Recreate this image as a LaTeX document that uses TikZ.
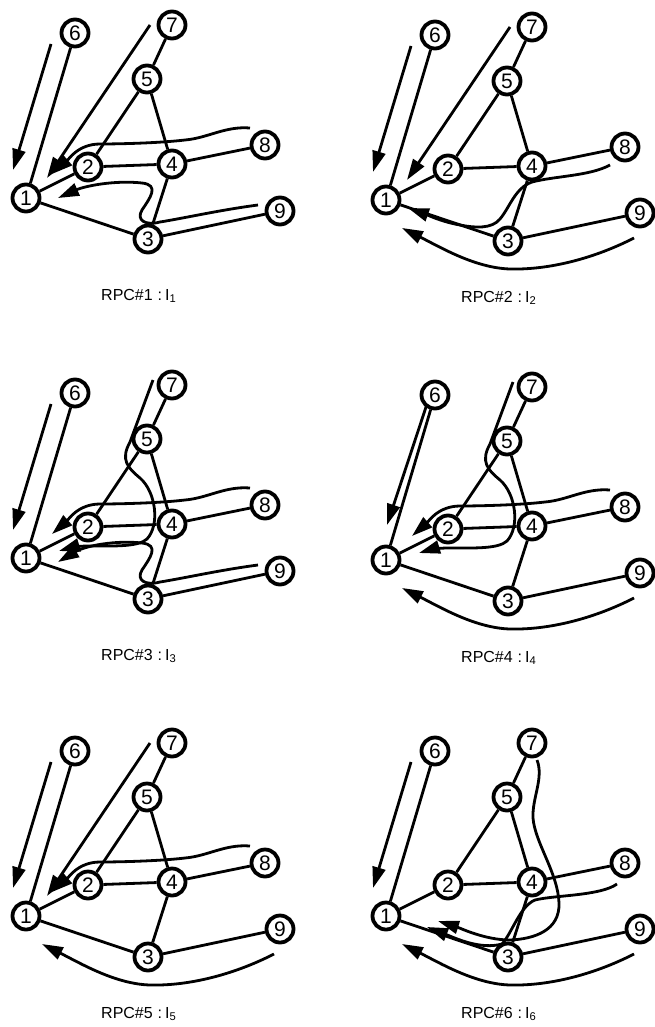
\documentclass[tikz,border=0pt]{standalone}
\usepackage{fontspec}
\setmainfont{Liberation Sans}
\usetikzlibrary{arrows.meta}
\tikzset{
  vtx/.style={circle, draw, line width=3.8pt, minimum size=27pt, inner sep=0pt, fill=white,
    font=\fontsize{21}{21}\selectfont},
  edge/.style={line width=2.8pt},
  route/.style={line width=2.8pt, -{Triangle[length=21pt,width=13pt]}},
  lbl/.style={font=\fontsize{16}{17}\selectfont, anchor=base west, inner sep=0pt},
}
\newcommand\basegraph[2]{%
  \node[vtx] (#1n1) at (26,198) {1};
  \node[vtx] (#1n2) at (88,167) {2};
  \node[vtx] (#1n3) at (148,239) {3};
  \node[vtx] (#1n4) at (172,164) {4};
  \node[vtx] (#1n5) at (147,79) {5};
  \node[vtx] (#1n6) at (75,33) {6};
  \node[vtx] (#1n7) at (172,25) {7};
  \node[vtx] (#1n8) at (265,145) {8};
  \node[vtx] (#1n9) at (280,211) {9};
  \draw[edge] (#1n1) -- (#1n6);
  \draw[edge] (#1n1) -- (#1n2);
  \draw[edge] (#1n1) -- (#1n3);
  \draw[edge] (#1n2) -- (#1n4);
  \draw[edge] (#1n2) -- (#1n5);
  \draw[edge] (#1n4) -- (#1n5);
  \draw[edge] (#1n5) -- (#1n7);
  \draw[edge] (#1n4) -- (#1n8);
  \draw[edge] (#1n4) -- (#1n3);
  \draw[edge] (#1n3) -- (#1n9);
  \node[lbl] (#1lab) at (101,300) {RPC\##2\hspace{0.3em}:\hspace{0.2em}I\textsubscript{#2}};
}
% arrow parallel to edge 6-1
\newcommand\arrowsix[1]{%
  \coordinate (#1s6) at (51,44); \coordinate (#1t6) at (13,170);
  \draw[route] (#1s6) -- (#1t6);
}
% straight arrow from 7
\newcommand\arrowseven[1]{%
  \coordinate (#1s7) at (150,25); \coordinate (#1t7) at (47,178);
  \draw[route] (#1s7) -- (#1t7);
}
% wavy route from 8 above 4 and 2
\newcommand\eightabove[1]{%
  \coordinate (#1s8) at (250,128); \coordinate (#1t8) at (52,174);
  \draw[route] (#1s8) .. controls (225,126) and (208,138) .. (185,140)
     .. controls (160,143) and (120,144) .. (100,144)
     .. controls (78,144) and (68,160) .. (#1t8);
}
% route from 9 via top of 3 with S bend
\newcommand\nineS[2]{%
  \coordinate (#1s9) at (258,205); \coordinate (#1t9) at (58,#2);
  \draw[route] (#1s9) .. controls (220,210) and (185,218) .. (160,222)
     .. controls (145,226) and (136,220) .. (142,210)
     .. controls (150,198) and (160,185) .. (142,183)
     .. controls (115,180) and (85,186) .. (#1t9);
}
% route from 9 below 3
\newcommand\ninebelow[1]{%
  \coordinate (#1s9) at (274,236); \coordinate (#1t9) at (42,226);
  \draw[route] (#1s9) .. controls (235,256) and (190,268) .. (150,267)
     .. controls (115,266) and (80,245) .. (#1t9);
}
% loop route from 7 left of 5
\newcommand\sevenloop[1]{%
  \coordinate (#1s7) at (153,20); \coordinate (#1t7) at (59,191);
  \draw[route] (#1s7) -- (130,82) .. controls (120,100) and (128,108) .. (140,118)
     .. controls (156,132) and (160,165) .. (147,179)
     .. controls (138,187) and (115,186) .. (88,186)
     .. controls (78,186) and (69,188) .. (#1t7);
}
\begin{document}
\begin{tikzpicture}[x=1pt,y=-1pt]
\useasboundingbox (0,0) rectangle (655,1027);
% ---------- panel 1
\begin{scope}[shift={(0,0)}]
  \basegraph{a}{1}
  \arrowsix{a}
  \arrowseven{a}
  \eightabove{a}
  \nineS{a}{198}
\end{scope}
% ---------- panel 2
\begin{scope}[shift={(360,2)}]
  \basegraph{b}{2}
  \arrowsix{b}
  \arrowseven{b}
  \coordinate (bs8) at (250,163); \coordinate (bt8) at (48,206);
  \draw[route] (bs8) .. controls (230,174) and (195,174) .. (172,180)
     .. controls (155,186) and (150,205) .. (140,217)
     .. controls (132,227) and (115,226) .. (100,223)
     .. controls (82,220) and (65,212) .. (bt8);
  \ninebelow{b}
\end{scope}
% ---------- panel 3
\begin{scope}[shift={(0,360)}]
  \basegraph{c}{3}
  \arrowsix{c}
  \sevenloop{c}
  \eightabove{c}
  \nineS{c}{202}
\end{scope}
% ---------- panel 4
\begin{scope}[shift={(360,362)}]
  \basegraph{d}{4}
  \coordinate (ds6) at (67,42); \coordinate (dt6) at (27,163);
  \draw[route] (ds6) -- (dt6);
  \sevenloop{d}
  \eightabove{d}
  \ninebelow{d}
\end{scope}
% ---------- panel 5
\begin{scope}[shift={(0,718)}]
  \basegraph{e}{5}
  \arrowsix{e}
  \arrowseven{e}
  \eightabove{e}
  \ninebelow{e}
\end{scope}
% ---------- panel 6
\begin{scope}[shift={(360,718)}]
  \basegraph{f}{6}
  \arrowsix{f}
  \coordinate (fs7) at (177,42); \coordinate (ft7) at (78,203);
  \draw[route] (fs7) .. controls (184,60) and (172,80) .. (173,100)
     .. controls (175,125) and (198,155) .. (199,185)
     .. controls (200,212) and (175,221) .. (150,222)
     .. controls (125,222) and (100,210) .. (ft7);
  \coordinate (fs8) at (257,166); \coordinate (ft8) at (67,209);
  \draw[route] (fs8) .. controls (240,178) and (195,177) .. (175,182)
     .. controls (160,188) and (152,215) .. (142,226)
     .. controls (120,232) and (95,220) .. (ft8);
  \ninebelow{f}
\end{scope}
\end{tikzpicture}
\end{document}
